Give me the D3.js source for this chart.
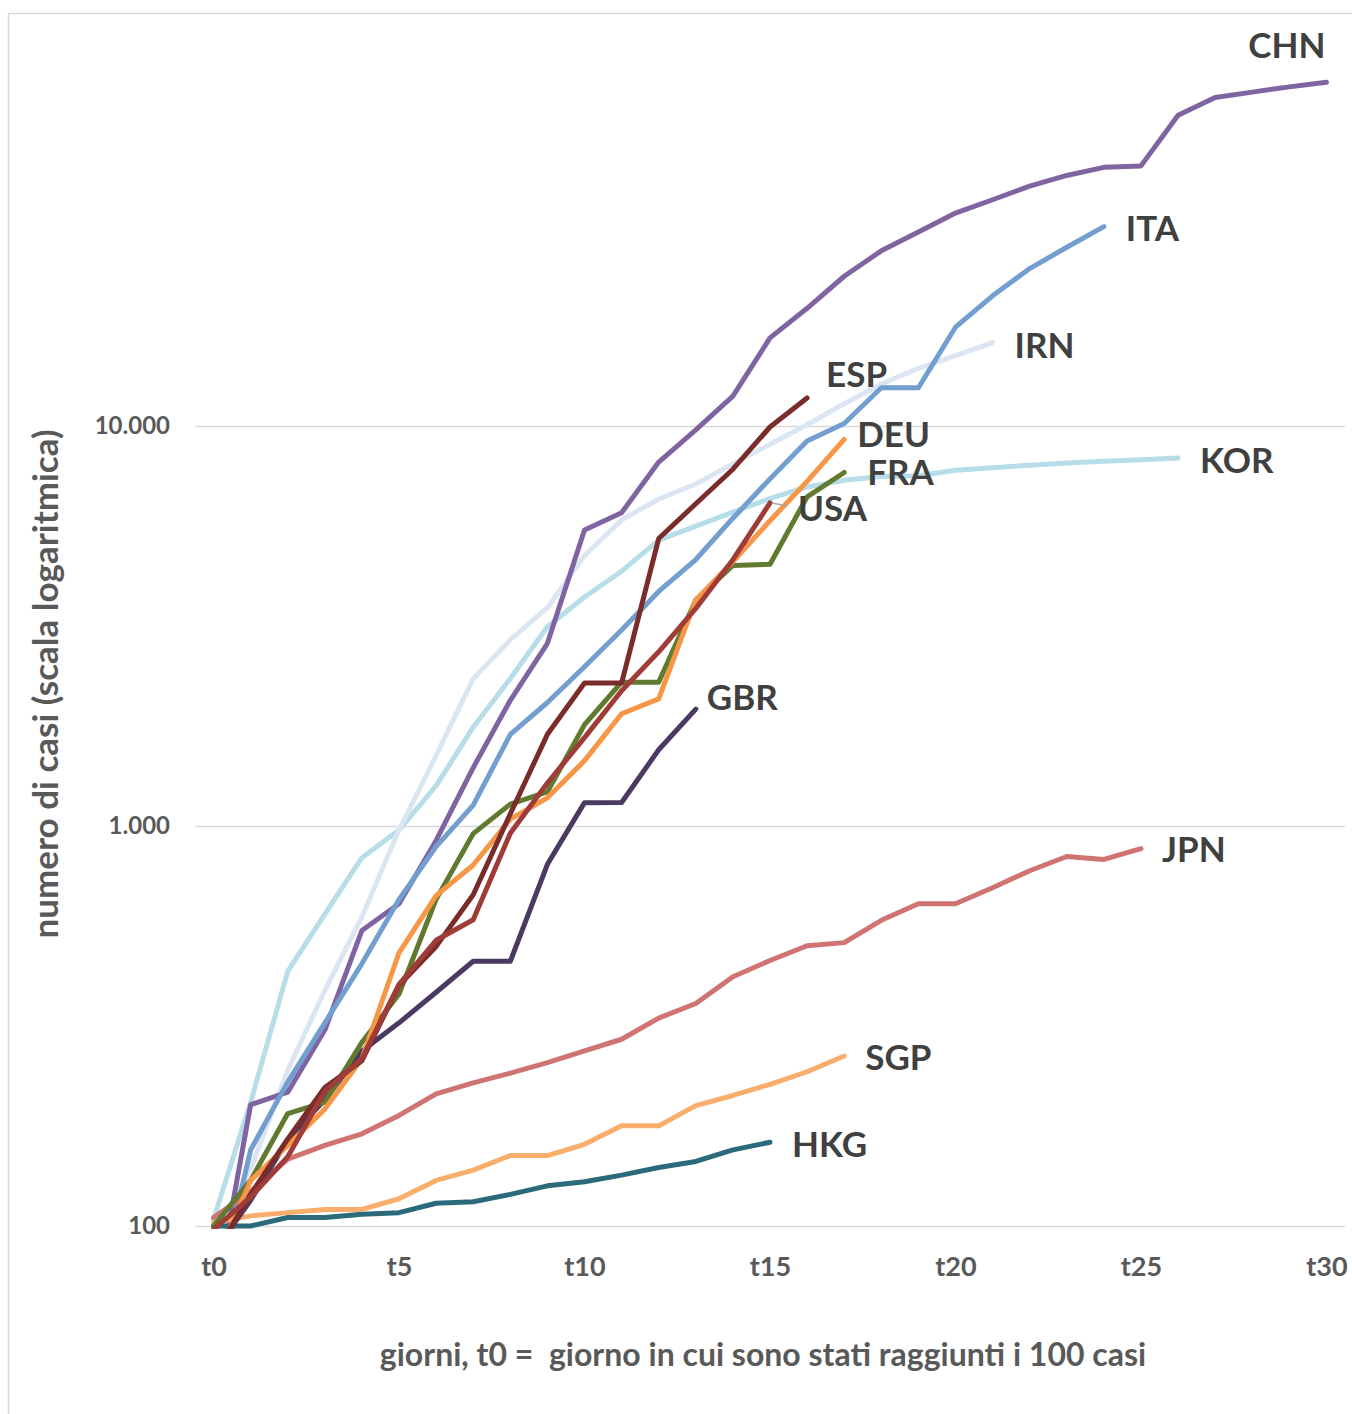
<!DOCTYPE html>
<html>
<head>
<meta charset="utf-8">
<script src="https://cdn.jsdelivr.net/npm/d3@7"></script>
<style>
  body { margin: 0; background: #fff; }
  svg text { font-family: 'Lato', 'Carlito', sans-serif; font-weight: bold; }
</style>
</head>
<body>
<svg id="chart" width="1352" height="1414"></svg>

<script>
// cumulative cases, one value per day starting from t0
const CHN = [62, 201, 216, 309, 548, 639, 920, 1399, 2062, 2863, 5494, 6070, 8124, 9783, 11871, 16607, 19693, 23680, 27409, 30553, 34075, 36778, 39790, 42306, 44327, 44699, 59832, 66292, 68347, 70446, 72364];
const ITA = [62, 155, 229, 322, 453, 655, 888, 1128, 1694, 2036, 2502, 3089, 3858, 4636, 5883, 7375, 9172, 10149, 12462, 12462, 17660, 21157, 24747, 27980, 31506];
const IRN = [95, 139, 245, 388, 593, 978, 1501, 2336, 2922, 3513, 4747, 5823, 6566, 7161, 8042, 9000, 10075, 11364, 12729, 13938, 14991, 16169];
const ESP = [84, 120, 165, 222, 259, 400, 500, 673, 1073, 1695, 2277, 2277, 5232, 6391, 7798, 9942, 11748];
const DEU = [79, 130, 159, 196, 262, 482, 670, 799, 1040, 1176, 1457, 1908, 2078, 3675, 4585, 5795, 7272, 9257];
const FRA = [100, 130, 191, 204, 288, 380, 656, 957, 1134, 1217, 1792, 2289, 2289, 3672, 4480, 4513, 6650, 7652];
const USA = [98, 118, 149, 217, 262, 402, 518, 583, 959, 1281, 1663, 2179, 2726, 3499, 4632, 6421];
const KOR = [104, 204, 433, 602, 833, 977, 1261, 1766, 2337, 3150, 3736, 4335, 5186, 5621, 6088, 6593, 7041, 7314, 7478, 7513, 7755, 7869, 7979, 8086, 8162, 8236, 8320];
const GBR = [86, 116, 164, 207, 274, 322, 384, 459, 459, 802, 1144, 1145, 1551, 1960];
const JPN = [105, 122, 147, 159, 170, 189, 214, 228, 241, 256, 274, 293, 331, 360, 420, 461, 502, 511, 581, 639, 639, 701, 773, 839, 825, 878];
const SGP = [102, 106, 108, 110, 110, 117, 130, 138, 150, 150, 160, 178, 178, 200, 212, 226, 243, 266];
const HKG = [100, 100, 105, 105, 107, 108, 114, 115, 120, 126, 129, 134, 140, 145, 155, 162];

const xTicks = [0, 5, 10, 15, 20, 25, 30];
const xTickLabels = ['t0', 't5', 't10', 't15', 't20', 't25', 't30'];
const yTicks = [100, 1000, 10000];
const yTickLabels = ['100', '1.000', '10.000'];

// drawing order (bottom to top)
const countries = ['KOR', 'IRN', 'CHN', 'ITA', 'JPN', 'HKG', 'SGP', 'GBR', 'FRA', 'DEU', 'ESP', 'USA'];
const values = {CHN, ITA, IRN, ESP, DEU, FRA, USA, KOR, GBR, JPN, SGP, HKG};

const colors = {
  CHN: '#8064a2', ITA: '#729fcf', IRN: '#dce6f2', ESP: '#7a2c2a',
  DEU: '#f79646', FRA: '#607a2f', USA: '#a03c38', KOR: '#b7dee8',
  GBR: '#4a3a62', JPN: '#cf7473', SGP: '#f9ae6b', HKG: '#2a6a7b'
};

// label offset from the last point of each line
const labelPos = {
  CHN: [-1, -24, 'end'], ITA: [22, 14], IRN: [22, 15], ESP: [19, -11],
  DEU: [13, 8], FRA: [23, 13], USA: [28, 18], KOR: [22, 15],
  GBR: [11, 1], JPN: [21, 13], SGP: [21, 14], HKG: [22, 15]
};

const plotLeft = 195, plotRight = 1345, plotTop = 26, plotBottom = 1226;

const svg = d3.select('#chart');

const x = d3.scaleLinear().domain([-0.5, 30.5]).range([plotLeft, plotRight]);
const y = d3.scaleLog().domain([100, 100000]).range([plotBottom, plotTop]);

// outer frame
svg.append('rect')
  .attr('x', 8.5).attr('y', 13.5)
  .attr('width', 1400).attr('height', 1450)
  .attr('fill', 'none')
  .attr('stroke', '#d9d9d9')
  .attr('stroke-width', 1.5);

// y axis with gridlines
const yAxis = d3.axisLeft(y)
  .tickValues(yTicks)
  .tickFormat((d, i) => yTickLabels[i])
  .tickSize(-(plotRight - plotLeft))
  .tickPadding(25);

const gy = svg.append('g')
  .attr('transform', 'translate(' + plotLeft + ',0)')
  .call(yAxis);
gy.select('.domain').remove();
gy.selectAll('.tick line').attr('stroke', '#d9d9d9').attr('stroke-width', 1.5);
gy.selectAll('.tick text').attr('fill', '#595959').style('font-size', '24px');

// x axis labels only
const xAxis = d3.axisBottom(x)
  .tickValues(xTicks)
  .tickFormat((d, i) => xTickLabels[i])
  .tickSize(0)
  .tickPadding(31);

const gx = svg.append('g')
  .attr('transform', 'translate(0,' + plotBottom + ')')
  .call(xAxis);
gx.select('.domain').remove();
gx.selectAll('.tick text').attr('fill', '#595959').style('font-size', '27px');

// clip to the plot area
svg.append('clipPath').attr('id', 'plot')
  .append('rect')
  .attr('x', plotLeft).attr('y', 0)
  .attr('width', plotRight - plotLeft).attr('height', plotBottom + 3);

const line = d3.line()
  .x((d, i) => x(i))
  .y(d => y(d));

svg.append('g')
  .attr('clip-path', 'url(#plot)')
  .selectAll('path')
  .data(countries)
  .enter()
  .append('path')
  .attr('d', c => line(values[c]))
  .attr('fill', 'none')
  .attr('stroke', c => colors[c])
  .attr('stroke-width', 5)
  .attr('stroke-linecap', 'round')
  .attr('stroke-linejoin', 'round');

// small leader line for USA
const usaEnd = USA.length - 1;
svg.append('line')
  .attr('x1', x(usaEnd) + 2).attr('y1', y(USA[usaEnd]))
  .attr('x2', x(usaEnd) + 17).attr('y2', y(USA[usaEnd]) + 3)
  .attr('stroke', '#a6a6a6')
  .attr('stroke-width', 1.5);

// series labels
svg.append('g')
  .selectAll('text')
  .data(countries)
  .enter()
  .append('text')
  .attr('x', c => x(values[c].length - 1) + labelPos[c][0])
  .attr('y', c => y(values[c][values[c].length - 1]) + labelPos[c][1])
  .attr('text-anchor', c => labelPos[c][2] || 'start')
  .attr('fill', '#404040')
  .style('font-size', '35px')
  .text(c => c);

// axis titles
svg.append('text')
  .attr('transform', 'translate(58,684) rotate(-90)')
  .attr('text-anchor', 'middle')
  .attr('fill', '#595959')
  .style('font-size', '35px')
  .text('numero di casi (scala logaritmica)');

svg.append('text')
  .attr('x', 763).attr('y', 1366)
  .attr('text-anchor', 'middle')
  .attr('fill', '#595959')
  .style('font-size', '32px')
  .style('white-space', 'pre')
  .text('giorni, t0 =  giorno in cui sono stati raggiunti i 100 casi');
</script>
</body>
</html>
